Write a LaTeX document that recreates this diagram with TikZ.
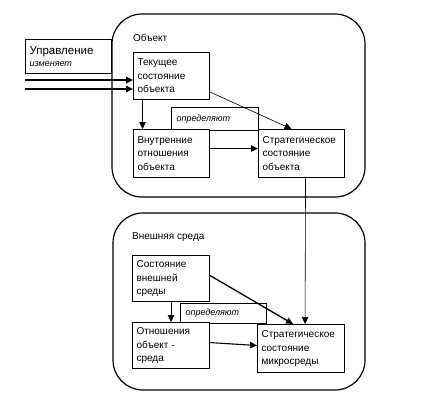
\documentclass[tikz,border=0pt]{standalone}
\usepackage{fontspec}
\setmainfont{Liberation Sans}
\usetikzlibrary{arrows.meta}

\begin{document}
\begin{tikzpicture}[x=1pt,y=-1pt,
  area/.style={draw,line width=1.2pt,rounded corners=30pt},
  blk/.style={draw,line width=1.1pt,fill=white,anchor=north west,align=left,
    inner xsep=4pt,inner ysep=0pt,font=\fontsize{10}{13.5}\selectfont},
  tag/.style={draw,line width=1.1pt,fill=white,anchor=north west,inner sep=0pt,
    font=\fontsize{9}{10}\selectfont\itshape},
  ttl/.style={anchor=west,inner sep=0pt,font=\fontsize{10}{12}\selectfont},
  arr/.style={-{Triangle[length=7pt,width=6.5pt]},line width=1.1pt},
  thin/.style={-{Triangle[length=7pt,width=6.5pt]},line width=.6pt}]
\path[use as bounding box] (0,0) rectangle (426,405);
% outer areas
\draw[area] (112,14) rectangle (365,197);
\draw[area] (113,213) rectangle (365,390);
\node[ttl] (obj) at (133,38) {Объект};
\node[ttl] (env) at (132,237) {Внешняя среда};
% control
\node[blk,text width=78pt,minimum height=34pt,font=\fontsize{11.5}{14}\selectfont] (ctl) at (25,39)
  {Управление\\[-2pt]{\fontsize{9}{10}\selectfont\itshape изменяет}};
\coordinate (c1) at (25,80);
\coordinate (c2) at (25,89);
% object
\node[tag,minimum width=87pt,minimum height=23pt,text width=83pt,align=left] (def1) at (171,107) {\hspace{3pt}определяют};
\node[blk,text width=68pt,minimum height=47pt] (tek) at (133,52) {Текущее\\состояние\\объекта};
\node[blk,text width=68pt,minimum height=48pt] (vn) at (133,129) {Внутренние\\отношения\\объекта};
\node[blk,text width=78pt,minimum height=48pt] (so) at (258,129) {Стратегическое\\состояние\\объекта};
% environment
\node[tag,minimum width=86pt,minimum height=20pt,text width=82pt,align=left] (def2) at (180,303) {\hspace{3pt}определяют};
\node[blk,text width=69pt,minimum height=46pt] (sv) at (132,255) {Состояние\\внешней\\среды};
\node[blk,text width=69pt,minimum height=46pt] (ot) at (132,322) {Отношения\\объект -\\среда};
\node[blk,text width=79pt,minimum height=48pt] (sm) at (257,324) {Стратегическое\\состояние\\микросреды};
% connectors
\draw[arr,line width=2pt] (c1) -- (c1 -| tek.west);
\draw[arr] (c2) -- (c2 -| tek.west);
\draw[arr] ([xshift=-29pt]tek.south) -- ([xshift=-29pt]vn.north);
\draw[thin] ([yshift=-16pt]tek.east) -- ([xshift=-10pt]so.north);
\draw[arr] ([yshift=5pt]vn.east) -- ([yshift=5pt]so.west);
\draw[thin] ([xshift=4pt]so.south) -- ([xshift=4pt]sm.north);
\draw[arr] (sv.south) -- (ot.north);
\draw[arr,line width=1.3pt] ([yshift=3pt]sv.east) -- ([xshift=-8pt]sm.north);
\draw[arr] ([yshift=3pt]ot.east) -- ([yshift=3pt]sm.west);
\end{tikzpicture}
\end{document}
